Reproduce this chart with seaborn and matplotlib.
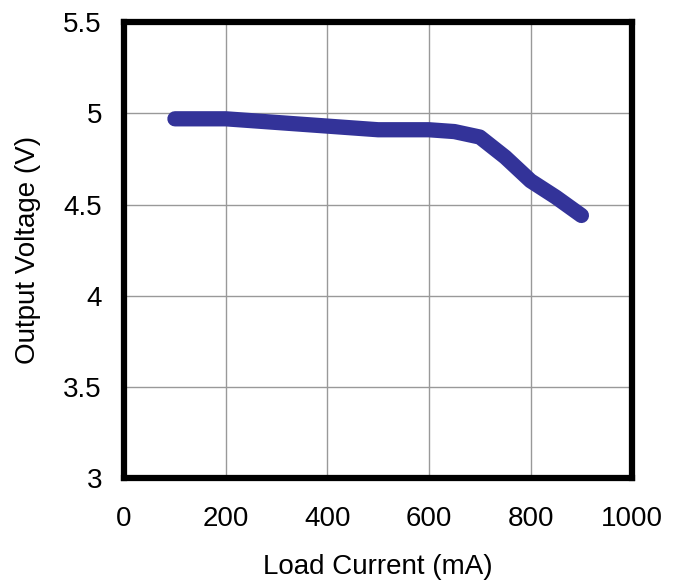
import matplotlib
matplotlib.use('Agg')
import matplotlib.pyplot as plt
import seaborn as sns
import pandas as pd

sns.set_style("whitegrid")
plt.rcParams['font.family'] = ['Liberation Sans', 'DejaVu Sans']

# values
load_current = [100, 200, 300, 400, 500, 600, 650, 700, 750, 800, 850, 900]
output_voltage = [4.97, 4.97, 4.95, 4.93, 4.91, 4.91, 4.90, 4.87, 4.76, 4.63, 4.54, 4.44]
x_ticks = [0, 200, 400, 600, 800, 1000]
y_ticks = [3, 3.5, 4, 4.5, 5, 5.5]
y_tick_labels = ["3", "3.5", "4", "4.5", "5", "5.5"]

df = pd.DataFrame({"current": load_current, "voltage": output_voltage})

fig = plt.figure(figsize=(6.82, 5.83), dpi=100)
ax = fig.add_axes([0.182, 0.180, 0.745, 0.782])

sns.lineplot(data=df, x="current", y="voltage", ax=ax, color="#333399",
             linewidth=11, solid_capstyle="round", solid_joinstyle="round")

ax.set_xlim(0, 1000)
ax.set_ylim(3, 5.5)
ax.set_xticks(x_ticks)
ax.set_yticks(y_ticks)
ax.set_yticklabels(y_tick_labels)
ax.grid(True, color="#999999", linewidth=1.0)

for side in ax.spines.values():
    side.set_visible(True)
    side.set_color("black")
    side.set_linewidth(4.5)

ax.tick_params(axis="both", length=0, labelsize=20, colors="black")
ax.tick_params(axis="x", pad=20)
ax.tick_params(axis="y", pad=16)
ax.set_xlabel("Load Current (mA)", fontsize=20, labelpad=16, color="black")
ax.set_ylabel("Output Voltage (V)", fontsize=20, labelpad=16, color="black")

fig.savefig("out.png", dpi=100)
